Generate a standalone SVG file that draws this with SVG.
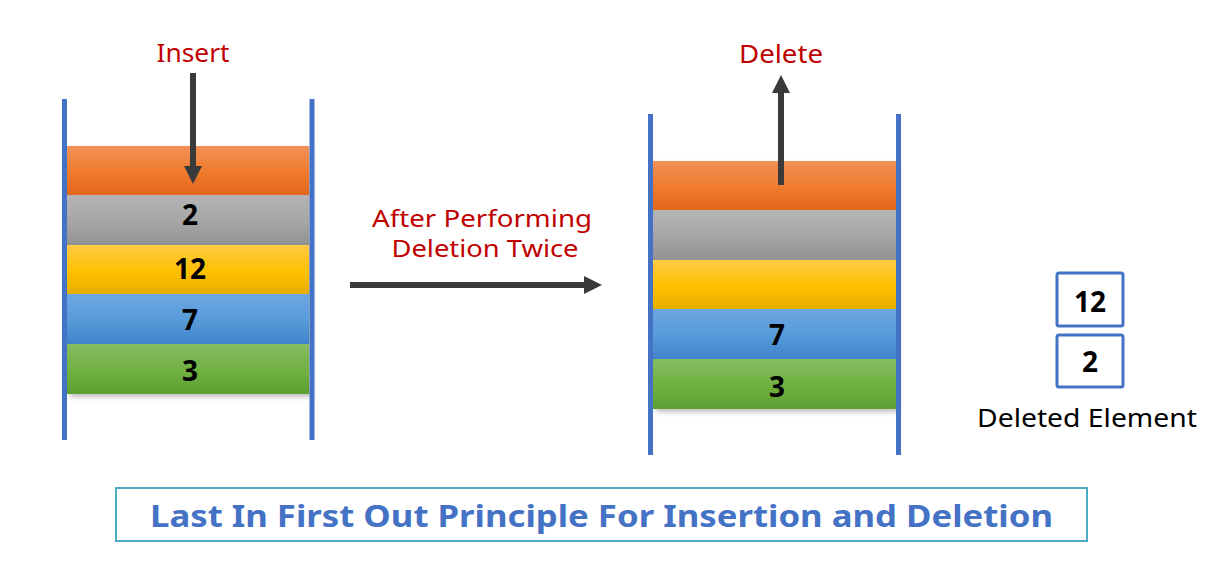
<svg xmlns="http://www.w3.org/2000/svg" width="1223" height="581" viewBox="0 0 1223 581">
<style>
.wall{stroke:#4472C4;stroke-width:5;}
.lbl{font-family:"Noto Sans","Liberation Sans",sans-serif;fill:#C00000;text-anchor:middle;}
.num{font-family:"Noto Sans","Liberation Sans",sans-serif;font-weight:bold;font-size:28px;fill:#000;text-anchor:middle;}
.conn{stroke:#3A3A3A;stroke-width:6;fill:none;}
.box{fill:#fff;stroke:#4472C4;stroke-width:3;}
</style>
<defs>
<linearGradient id="gO" x1="0" y1="0" x2="0" y2="1"><stop offset="0" stop-color="#F29158"/><stop offset="0.55" stop-color="#F07A2C"/><stop offset="1" stop-color="#E2661C"/></linearGradient>
<linearGradient id="gG" x1="0" y1="0" x2="0" y2="1"><stop offset="0" stop-color="#B5B5B5"/><stop offset="0.55" stop-color="#A5A5A5"/><stop offset="1" stop-color="#919191"/></linearGradient>
<linearGradient id="gY" x1="0" y1="0" x2="0" y2="1"><stop offset="0" stop-color="#FFCA45"/><stop offset="0.55" stop-color="#FFC000"/><stop offset="1" stop-color="#E8AE00"/></linearGradient>
<linearGradient id="gB" x1="0" y1="0" x2="0" y2="1"><stop offset="0" stop-color="#6DA7E2"/><stop offset="0.55" stop-color="#579AD9"/><stop offset="1" stop-color="#3F83CB"/></linearGradient>
<linearGradient id="gN" x1="0" y1="0" x2="0" y2="1"><stop offset="0" stop-color="#86BD62"/><stop offset="0.55" stop-color="#6FB040"/><stop offset="1" stop-color="#5E9F33"/></linearGradient>
<filter id="sh" x="-5%" y="-20%" width="112%" height="150%"><feDropShadow dx="3" dy="3" stdDeviation="2.5" flood-color="#000" flood-opacity="0.25"/></filter>
<marker id="ah" markerUnits="userSpaceOnUse" markerWidth="18" markerHeight="18" refX="0" refY="9" orient="auto" viewBox="0 0 18 18"><path d="M0,0 L18,9 L0,18 z" fill="#3A3A3A"/></marker>
</defs>
<rect width="1223" height="581" fill="#fff"/>

<g id="stack-before">
<g filter="url(#sh)">
<rect x="67" y="146" width="242" height="49" fill="url(#gO)"/>
<rect x="67" y="195" width="242" height="50" fill="url(#gG)"/>
<rect x="67" y="245" width="242" height="49" fill="url(#gY)"/>
<rect x="67" y="294" width="242" height="50" fill="url(#gB)"/>
<rect x="67" y="344" width="242" height="50" fill="url(#gN)"/>
</g>
<line class="wall" x1="64.5" y1="99" x2="64.5" y2="440"/>
<line class="wall" x1="312" y1="99" x2="312" y2="440"/>
<text class="num" x="190" y="225">2</text>
<text class="num" x="190" y="279">12</text>
<text class="num" x="190" y="330">7</text>
<text class="num" x="190" y="381">3</text>
</g>

<g id="stack-after">
<g filter="url(#sh)">
<rect x="653" y="161" width="243" height="49" fill="url(#gO)"/>
<rect x="653" y="210" width="243" height="50" fill="url(#gG)"/>
<rect x="653" y="260" width="243" height="49" fill="url(#gY)"/>
<rect x="653" y="309" width="243" height="50" fill="url(#gB)"/>
<rect x="653" y="359" width="243" height="50" fill="url(#gN)"/>
</g>
<line class="wall" x1="650.5" y1="114" x2="650.5" y2="455"/>
<line class="wall" x1="898.5" y1="114" x2="898.5" y2="455"/>
<text class="num" x="777" y="345">7</text>
<text class="num" x="777" y="397">3</text>
</g>

<g id="label-insert"><text class="lbl" x="193" y="62" font-size="26" textLength="73" lengthAdjust="spacingAndGlyphs">Insert</text></g>
<g id="label-delete"><text class="lbl" x="781" y="63" font-size="26" textLength="84" lengthAdjust="spacingAndGlyphs">Delete</text></g>
<g id="label-after">
<text class="lbl" x="482" y="227" font-size="24" textLength="220" lengthAdjust="spacingAndGlyphs">After Performing</text>
<text class="lbl" x="485" y="257" font-size="24" textLength="187" lengthAdjust="spacingAndGlyphs">Deletion Twice</text>
</g>

<g id="deleted">
<rect class="box" x="1057" y="273" width="66" height="53" rx="2"/>
<rect class="box" x="1057" y="335" width="66" height="52" rx="2"/>
<text class="num" x="1090" y="312">12</text>
<text class="num" x="1090" y="372">2</text>
<text x="1087" y="427" font-family="Noto Sans, Liberation Sans, sans-serif" font-size="25" fill="#000" text-anchor="middle" textLength="220" lengthAdjust="spacingAndGlyphs">Deleted Element</text>
</g>

<g id="connectors">
<line class="conn" x1="193" y1="73" x2="193" y2="166" marker-end="url(#ah)"/>
<line class="conn" x1="781" y1="185" x2="781" y2="93" marker-end="url(#ah)"/>
<line class="conn" x1="350" y1="285" x2="584" y2="285" marker-end="url(#ah)" stroke-width="5"/>
</g>

<g id="title">
<rect x="116" y="488" width="971" height="53" fill="#fff" stroke="#4BACC6" stroke-width="2"/>
<text x="601.5" y="527" font-family="Noto Sans, Liberation Sans, sans-serif" font-weight="bold" font-size="30" fill="#4472C4" text-anchor="middle" textLength="903" lengthAdjust="spacingAndGlyphs">Last In First Out Principle For Insertion and Deletion</text>
</g>
</svg>
